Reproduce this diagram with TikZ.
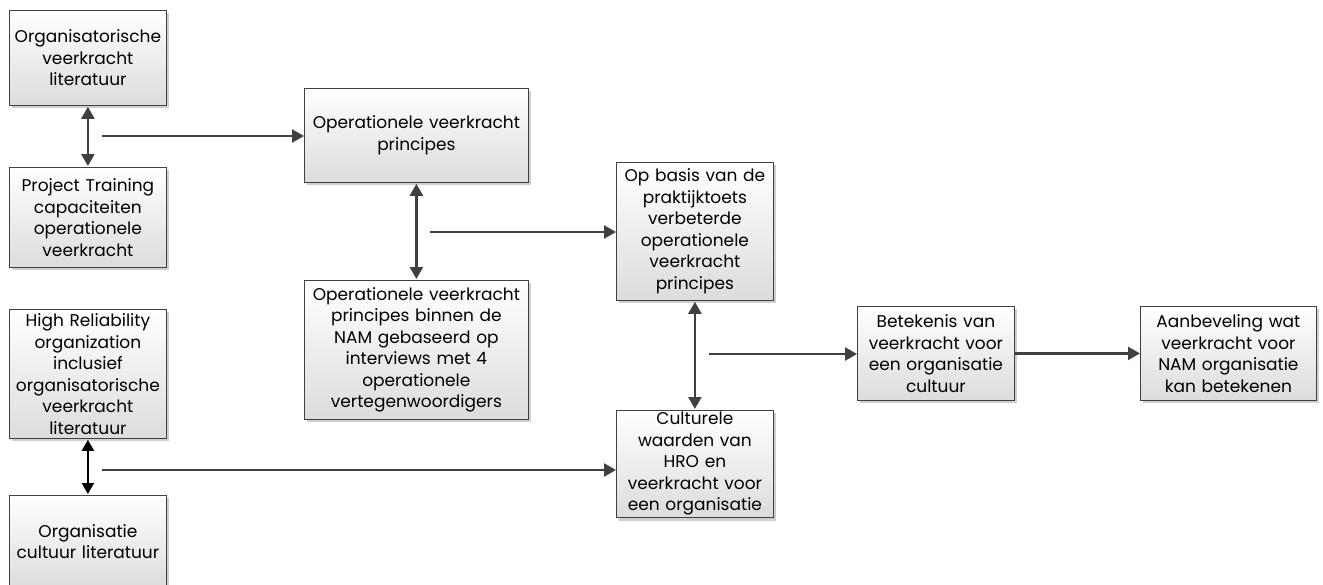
\documentclass[tikz,border=0pt]{standalone}
\usepackage{fontspec}
\setmainfont{Poppins}
\usetikzlibrary{arrows.meta,shadows}
\definecolor{boxline}{HTML}{404040}
\definecolor{boxbot}{HTML}{DCDCDC}
\definecolor{shadowgray}{HTML}{CFCFCF}
\definecolor{arr}{HTML}{404040}
\newcommand{\boxfont}{\fontsize{17}{21.5}\selectfont}
\tikzset{
  box/.style={draw=boxline, line width=0.8pt, top color=white, bottom color=boxbot,
    anchor=north west, inner sep=2pt, align=center, font=\boxfont,
    drop shadow={shadow xshift=3pt, shadow yshift=-3pt, fill=shadowgray, opacity=1}},
  dbl/.style={draw=arr, line width=2.4pt, {Triangle[length=12pt,width=13pt]}-{Triangle[length=12pt,width=13pt]}},
  dblk/.style={draw=black, line width=2pt, {Triangle[length=11pt,width=12pt]}-{Triangle[length=11pt,width=12pt]}},
  one/.style={draw=arr, line width=2.4pt, -{Triangle[length=12pt,width=13pt]}},
}
\begin{document}
\begin{tikzpicture}[x=1pt,y=-1pt]
\useasboundingbox (0,0) rectangle (1323,584);
\clip (0,0) rectangle (1323,584);
\node[box, text width=153pt, minimum height=95pt] (A) at (9,10) {Organisatorische\\veerkracht\\literatuur};
\node[box, text width=153pt, minimum height=100pt] (B) at (9,167) {Project Training\\capaciteiten\\operationele\\veerkracht};
\node[box, text width=220pt, minimum height=94pt] (C) at (304,88) {Operationele veerkracht\\principes};
\node[box, text width=220pt, minimum height=139pt] (D) at (304,280) {Operationele veerkracht\\principes binnen de\\NAM gebaseerd op\\interviews met 4\\operationele\\vertegenwoordigers};
\node[box, text width=153pt, minimum height=138pt] (E) at (616,162) {Op basis van de\\praktijktoets\\verbeterde\\operationele\\veerkracht\\principes};
\node[box, text width=153pt, minimum height=92pt] (F) at (616,410) {Culturele\\waarden van\\HRO en\\veerkracht voor\\een organisatie};
\node[box, text width=153pt, minimum height=94pt] (G) at (857,306) {Betekenis van\\veerkracht voor\\een organisatie\\cultuur};
\node[box, text width=172pt, minimum height=94pt] (H) at (1140,306) {Aanbeveling wat\\veerkracht voor\\NAM organisatie\\kan betekenen};
\node[box, text width=153pt, minimum height=129pt] (I) at (9,309) {High Reliability\\organization\\inclusief\\organisatorische\\veerkracht\\literatuur};
\node[box, text width=153pt, minimum height=92pt] (J) at (9,495) {Organisatie\\cultuur literatuur};

\coordinate (s1) at (102,136);
\coordinate (s2) at (430,232);
\coordinate (s3) at (709,354);
\coordinate (s4) at (102,470);

\draw[dbl] ([yshift=-1pt]A.south) -- ([yshift=1pt]B.north);
\draw[one] (s1) -- (s1 -| C.west);
\draw[dbl] ([yshift=-1pt]C.south) -- ([yshift=1pt]D.north);
\draw[one] (s2) -- (s2 -| E.west);
\draw[dbl] ([yshift=-1pt]E.south) -- ([yshift=1pt]F.north);
\draw[one] (s3) -- (s3 -| G.west);
\draw[one] (G.east) -- (H.west);
\draw[dblk] ([yshift=-1pt]I.south) -- ([yshift=1pt]J.north);
\draw[one] (s4) -- (s4 -| F.west);
\end{tikzpicture}
\end{document}
